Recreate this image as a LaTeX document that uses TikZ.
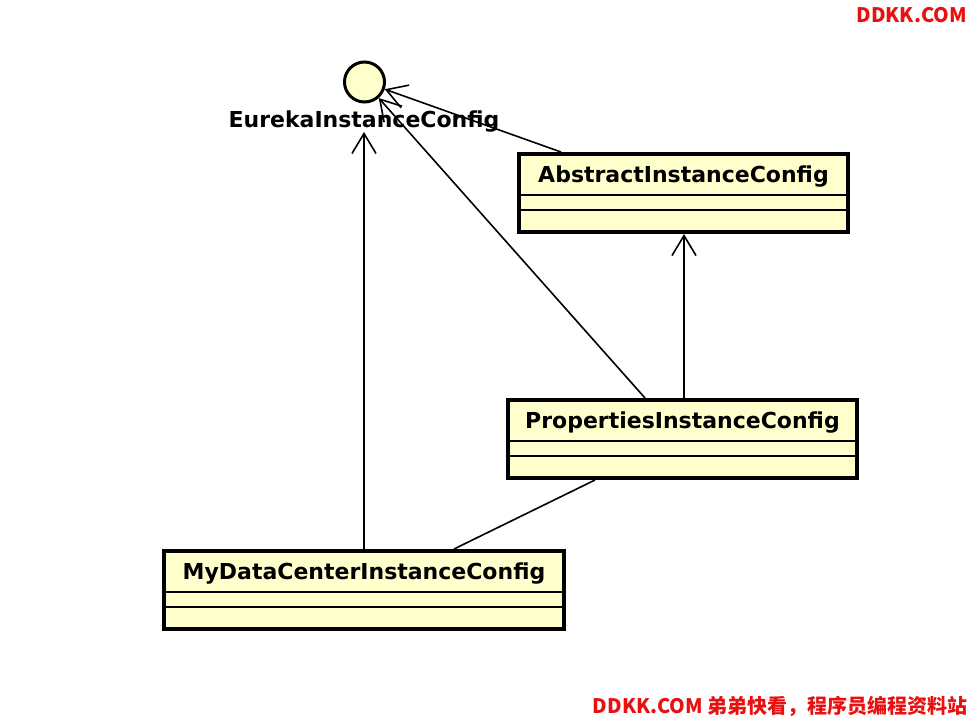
\documentclass[tikz,border=0pt]{standalone}
\usepackage{fontspec}
\setmainfont{DejaVu Sans}
\newfontfamily\cjkfont{Noto Sans CJK SC}
\usepackage{tikz}
\usetikzlibrary{calc}
\usetikzlibrary{positioning}
\usetikzlibrary{arrows.meta}
\definecolor{umlfill}{HTML}{FFFFCC}
\definecolor{ddkkred}{HTML}{E81111}

\begin{document}
\begin{tikzpicture}[x=1pt, y=-1pt,
  every node/.style={font=\fontsize{22}{26}\selectfont\bfseries, inner sep=0pt},
  classbox/.style={draw, line width=4pt, fill=umlfill, minimum height=78pt},
  iface/.style={draw, circle, line width=3pt, fill=umlfill, minimum size=40pt},
  sepline/.style={line width=1.5pt},
  realize/.style={line width=1.6pt, -{Straight Barb[length=20pt,width=24pt]}},
  assoc/.style={line width=1.6pt},
  wmark/.style={text=ddkkred, font=\cjkfont\fontsize{20}{24}\selectfont\bfseries}]
\useasboundingbox (0,0) rectangle (970,718);
% interface
\node[iface] (N0) at (364.5,82) {};
\node[anchor=base] (L0) at (364,127) {EurekaInstanceConfig};
% classes
\node[classbox, minimum width=329pt] (N1) at (683.5,193) {};
\node[classbox, minimum width=349pt] (N2) at (682.5,439) {};
\node[classbox, minimum width=400pt] (N3) at (364,590) {};
\node[anchor=base] (T1) at ($(N1.north)+(0,30)$) {AbstractInstanceConfig};
\node[anchor=base] (T2) at ($(N2.north)+(0,30)$) {PropertiesInstanceConfig};
\node[anchor=base] (T3) at ($(N3.north)+(0,30)$) {MyDataCenterInstanceConfig};
\draw[sepline] ($(N1.north west)+(0,43)$) -- ($(N1.north east)+(0,43)$);
\draw[sepline] ($(N1.north west)+(0,58)$) -- ($(N1.north east)+(0,58)$);
\draw[sepline] ($(N2.north west)+(0,43)$) -- ($(N2.north east)+(0,43)$);
\draw[sepline] ($(N2.north west)+(0,58)$) -- ($(N2.north east)+(0,58)$);
\draw[sepline] ($(N3.north west)+(0,43)$) -- ($(N3.north east)+(0,43)$);
\draw[sepline] ($(N3.north west)+(0,58)$) -- ($(N3.north east)+(0,58)$);
% connectors
\draw[realize] ([xshift=-122.5pt]N1.north) -- (N0);
\draw[realize] ([xshift=-37.5pt]N2.north) -- (N0);
\draw[realize] ([xshift=1.5pt]N2.north) -- ([xshift=1.5pt]N2.north |- N1.south);
\draw[realize] (N3.north) -- (N3.north |- L0.south);
\draw[assoc] ([xshift=-87.5pt]N2.south) -- ([xshift=90pt]N3.north);
% watermarks
\node[wmark, anchor=base east] (W1) at (967,22) {DDKK.COM};
\node[wmark, anchor=base east] (W2) at (968,713) {DDKK.COM 弟弟快看，程序员编程资料站};
\end{tikzpicture}
\end{document}
